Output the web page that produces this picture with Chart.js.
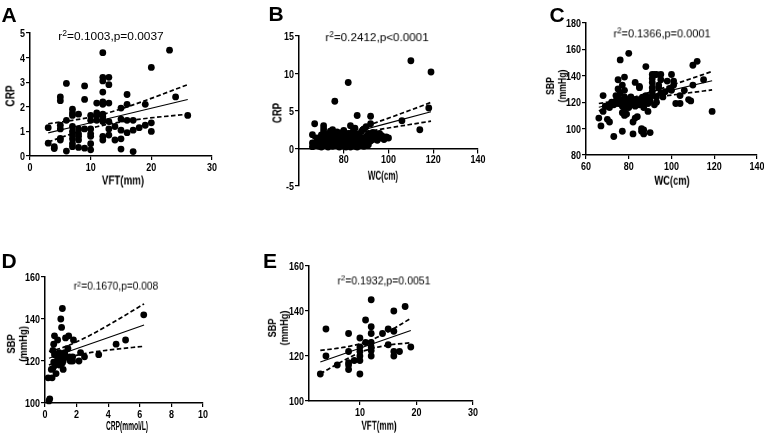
<!DOCTYPE html>
<html><head><meta charset="utf-8">
<script src="https://cdn.jsdelivr.net/npm/chart.js@4.4.1/dist/chart.umd.min.js"></script>
<style>
html,body{margin:0;padding:0;width:764px;height:433px;overflow:hidden;background:#fff;}
canvas{position:absolute;}
.t{position:absolute;white-space:nowrap;line-height:1;color:#000;font-family:Arial,'Liberation Sans',sans-serif;transform:translate(-50%,-50%);will-change:transform;}
.b{font-weight:bold;}
.rot{text-align:center;line-height:1.1;}
.sup{position:relative;top:-0.45em;font-size:0.72em;}
</style></head><body>
<div class="t b" style="left:9px;top:14px;font-size:21px">A</div>
<div class="t b" style="left:276px;top:13px;font-size:21px">B</div>
<div class="t b" style="left:557px;top:14px;font-size:21px">C</div>
<div class="t b" style="left:9px;top:260px;font-size:21px">D</div>
<div class="t b" style="left:270px;top:260px;font-size:21px">E</div>

<div class="t fit" data-w="105" style="left:110.5px;top:36.5px;font-size:11.8px">r<span class="sup">2</span>=0.1003,p=0.0037</div>
<div class="t fit" data-w="103" style="left:376.5px;top:38px;font-size:11.8px">r<span class="sup">2</span>=0.2412,p&lt;0.0001</div>
<div class="t fit" data-w="97" style="left:662px;top:33.5px;font-size:11.3px">r<span class="sup">2</span>=0.1366,p=0.0001</div>
<div class="t fit" data-w="85" style="left:116px;top:286px;font-size:10.8px">r<span class="sup">2</span>=0.1670,p=0.008</div>
<div class="t fit" data-w="93" style="left:384px;top:281px;font-size:11.2px">r<span class="sup">2</span>=0.1932,p=0.0051</div>

<div class="t b fit rot" data-r="1" data-w="21" style="left:11px;top:96px;font-size:12px">CRP</div>
<div class="t b fit" data-w="42" style="left:122.5px;top:180px;font-size:13px">VFT(mm)</div>
<div class="t b fit rot" data-r="1" data-w="20" style="left:278px;top:113px;font-size:12px">CRP</div>
<div class="t b fit" data-w="30" style="left:382.5px;top:176px;font-size:12.5px">WC(cm)</div>
<div class="t b fit rot" data-r="1" data-w="33" style="left:555.5px;top:86px;font-size:11px">SBP<br>(mmHg)</div>
<div class="t b fit" data-w="35" style="left:672px;top:180.5px;font-size:12.5px">WC(cm)</div>
<div class="t b fit rot" data-r="1" data-w="36" style="left:17px;top:344px;font-size:11px">SBP<br>(mmHg)</div>
<div class="t b fit" data-w="42" style="left:127px;top:426px;font-size:12px">CRP(mmol/L)</div>
<div class="t b fit rot" data-r="1" data-w="35" style="left:277.5px;top:328px;font-size:11px">SBP<br>(mmHg)</div>
<div class="t b fit" data-w="35" style="left:379px;top:426px;font-size:12.5px">VFT(mm)</div>

<script>
// ---------- Panel A: VFT vs CRP ----------
const A_vft = [3,3,4,4,5,5,5,5,5,5,6,6,6,7,7,7,7,7,7,7,7,7,8,8,8,8,8,8,9,9,9,9,10,10,10,10,10,10,10,11,11,11,11,12,12,12,12,12,12,12,12,12,12,12,12,13,13,13,13,13,13,14,14,15,15,15,15,15,16,16,16,16,17,17,17,18,19,19,20,20,20,23,24,26];
const A_crp = [1.15,0.52,0.38,0.3,2.4,2.25,1.25,1.1,0.65,0.72,2.95,1.45,0.2,1.9,1.75,1.65,1.2,1.0,0.85,0.7,0.5,0.38,1.7,1.1,0.9,0.8,0.65,0.35,2.85,2.3,1.1,0.32,1.65,1.45,1.1,0.9,0.8,0.5,0.25,2.15,1.75,1.65,1.45,4.2,3.2,3.05,2.6,2.2,2.1,1.7,1.6,1.45,1.4,0.8,0.65,3.2,2.9,2.15,1.4,1.1,0.85,1.2,0.65,1.95,1.5,1.05,0.7,0.28,2.5,2.1,1.45,0.95,1.45,1.05,0.18,1.15,2.1,1.25,3.6,1.35,1.0,4.3,2.4,1.65];
const A_fitX = [3,26];       const A_fitY = [0.94,2.3];
const A_bandX = [3,7,11,17,26];
const A_upper = [1.31,1.45,1.63,2.08,2.9];
const A_lower = [0.57,0.91,1.19,1.46,1.7];
const A_xTicks = [0,10,20,30];
const A_yTicks = [0,1,2,3,4,5];

// ---------- Panel B: WC vs CRP ----------
const B_wc = [66,66,66,67,67,68,68,69,69,70,70,70,71,71,71,71,71,71,72,72,72,73,73,73,73,74,74,74,75,75,75,75,75,76,76,76,76,77,77,77,77,78,78,78,78,79,79,79,79,80,80,80,80,81,81,81,81,82,82,82,82,83,83,83,83,84,84,84,85,85,85,85,86,86,86,86,86,87,87,87,88,88,88,89,89,89,90,90,90,91,91,91,92,92,92,92,93,93,94,94,95,95,96,96,97,98,99,100,106,110,114,118,119];
const B_crp = [1.85,0.75,0.25,3.3,0.5,0.9,1.4,0.3,1.1,0.6,1.8,0.2,3.05,2.6,2.2,1.7,1.2,0.8,0.4,1.5,1.0,0.2,0.7,1.3,1.9,0.5,1.1,2.3,0.3,0.9,1.4,1.8,2.5,6.3,0.6,1.2,1.6,0.4,1.0,1.5,2.2,0.2,0.8,1.3,1.9,0.5,1.0,2.1,1.5,0.3,0.9,1.4,2.4,0.6,1.1,1.7,0.2,8.8,0.4,1.3,2.0,3.05,0.8,1.5,0.2,0.5,1.2,2.2,0.9,1.6,2.7,0.3,4.4,0.2,0.7,1.3,1.9,0.4,1.0,1.8,0.6,1.4,2.3,0.3,1.1,2.6,0.8,1.6,2.9,0.5,1.3,2.0,4.3,3.3,1.0,1.7,2.15,1.2,1.4,2.0,1.1,1.8,1.4,2.0,1.7,1.2,1.55,1.4,3.7,11.7,2.5,5.4,10.2];
const B_fitX = [66,119];     const B_fitY = [0.7,4.9];
const B_bandX = [66,82,95,109,119];
const B_upper = [1.3,2.27,3.52,5.03,6.15];
const B_lower = [0.1,1.67,2.48,3.17,3.65];
const B_xTicks = [80,100,120,140];
const B_yTicks = [-5,0,5,10,15];

// ---------- Panel C: WC vs SBP ----------
const C_wc = [66,67,68,68,69,70,71,71,71,72,73,73,74,74,75,75,75,75,76,76,76,76,77,77,77,77,77,78,78,78,78,78,78,79,79,79,80,80,80,80,81,81,81,82,82,82,82,83,83,83,83,84,84,84,85,85,85,85,86,86,86,86,87,87,87,87,88,88,88,89,89,89,90,90,91,91,91,91,91,91,92,92,93,93,93,94,94,95,95,95,96,97,98,99,100,100,101,101,102,104,104,106,108,109,110,112,110,115,119];
const C_sbp = [108,102,125,113,117,107,105,118,116,120,94,118,125,121,130,137,119,123,152,122,119,127,117,98,133,112,121,129,139,114,110,124,118,111,120,122,157,122,119,116,121,124,118,120,105,96,122,135,108,120,117,109,122,119,132,131,121,118,100,98,120,123,96,99,121,116,147,120,125,122,113,119,97,121,141,138,135,131,128,125,141,118,141,120,124,133,131,141,137,127,124,128,136,130,141,129,136,133,119,119,125,129,122,121,148,151,133,137,113];
const C_fitX = [66,119];     const C_fitY = [116.2,136.3];
const C_bandX = [66,80,92,105,119];
const C_upper = [119.0,122.8,128.6,135.6,143.3];
const C_lower = [113.4,120.2,123.6,126.4,129.3];
const C_xTicks = [60,80,100,120,140];
const C_yTicks = [80,100,120,140,160,180];

// ---------- Panel D: CRP vs SBP ----------
const D_crp = [0.2,0.25,0.3,0.4,0.45,0.5,0.5,0.55,0.55,0.6,0.6,0.65,0.7,0.75,0.75,0.8,0.85,0.9,0.95,1.0,1.0,1.05,1.1,1.05,1.15,1.1,1.15,1.25,1.3,1.35,1.45,1.5,1.55,1.55,1.6,1.75,1.75,1.8,2.15,2.25,2.5,3.4,4.5,5.1,6.25];
const D_sbp = [112,101,102,116,112,116.5,125,119.5,128,132,123,118,114,123,120,130,122,124,118,140,121,136,145,122,120,119,116,124,131,122,126,132,122,121,120,122,120,130,120,124,122,123,128,130,142];
const D_fitX = [0.25,6.27];  const D_fitY = [121.3,137.1];
const D_bandX = [0.25,1.2,2.5,4,6.27];
const D_upper = [124.5,126.6,130.9,137.0,147.2];
const D_lower = [118.1,121.0,123.5,125.2,127.0];
const D_xTicks = [0,2,4,6,8,10];
const D_yTicks = [100,120,140,160];

// ---------- Panel E: VFT vs SBP ----------
const E_vft = [3,4,4,6,8,8,8,8,8,9,10,10,10,10,10,10,11,11,12,12,12,12,12,12,12,14,15,15,16,16,16,16,17,18,19];
const E_sbp = [112,132,120,116,130,122,117,116,114,118,128,124,122,120,118,112,136,126,145,133,130,126,124,122.5,120,130,132,125,140,131,122,120,122,142,124];
const E_fitX = [3,19];       const E_fitY = [117.3,131.3];
const E_bandX = [3,7,11,15,19];
const E_upper = [122.5,123.8,126.1,130.8,136.7];
const E_lower = [112.1,117.8,122.5,124.8,125.9];
const E_xTicks = [10,20,30];
const E_yTicks = [100,120,140,160];

// squeeze each text block horizontally to the width it has in the reference
document.querySelectorAll('.fit').forEach(el => {
  const k = (+el.dataset.w) / el.offsetWidth;
  el.style.transform = 'translate(-50%,-50%)' + (el.dataset.r ? ' rotate(-90deg)' : '') + ' scaleX(' + k.toFixed(3) + ')';
});

// condensed bold tick labels, placed with the chart's own scales
const narrowTicks = {
  id:'narrowTicks',
  afterDraw(chart){
    const ctx = chart.ctx, xs = chart.scales.x, ys = chart.scales.y, ca = chart.chartArea;
    ctx.save();
    ctx.fillStyle = '#000';
    ctx.font = "bold 11.5px Arial, 'Liberation Sans', sans-serif";
    ctx.textBaseline = 'alphabetic';
    const xLine = chart.options.xAtZero ? ys.getPixelForValue(0) : ca.bottom;
    ctx.textAlign = 'center';
    xs.ticks.forEach(t => {
      ctx.save(); ctx.translate(xs.getPixelForValue(t.value), xLine + 14.5); ctx.scale(0.78, 1);
      ctx.fillText(String(t.value), 0, 0); ctx.restore();
    });
    ctx.textAlign = 'right';
    ys.ticks.forEach(t => {
      ctx.save(); ctx.translate(ca.left - 5, ys.getPixelForValue(t.value) + 4); ctx.scale(0.78, 1);
      ctx.fillText(String(t.value), 0, 0); ctx.restore();
    });
    ctx.restore();
  }
};

function pts(xs, ys){ const n=Math.min(xs.length, ys.length); const o=[]; for(let i=0;i<n;i++) o.push({x:xs[i], y:ys[i]}); return o; }

function axis(min, max, ticks, isX, pos){
  return {
    type:'linear', min:min, max:max, position:pos,
    afterBuildTicks: s => { s.ticks = ticks.map(v => ({value:v})); },
    afterFit: s => { if(isX) s.height = 20; else s.width = 30; },
    ticks:{display:false, autoSkip:false, maxRotation:0},
    grid:{display:true, drawOnChartArea:false, drawTicks:true, tickLength:4, color:'#000', lineWidth:1.2},
    border:{display:true, color:'#000', width:1.5}
  };
}

function panel(g, xs, ys, fx, fy, bx, up, lo, xr, yr, xt, yt, xAtZero){
  const padB = xAtZero ? 10 : 0;
  const c = document.createElement('canvas');
  const w = g.R - g.L + 40, h = g.B - g.T + 10 + (xAtZero ? 10 : 20);
  c.width = w; c.height = h;
  c.style.left = (g.L - 30) + 'px'; c.style.top = (g.T - 10) + 'px';
  c.style.width = w + 'px'; c.style.height = h + 'px';
  document.body.appendChild(c);
  const lineDs = (d, dash, bw) => ({data:d, showLine:true, borderColor:'#000', backgroundColor:'#000', borderWidth:bw, borderDash:dash, pointRadius:0, pointHoverRadius:0, cubicInterpolationMode:'monotone', clip:false});
  new Chart(c, {
    type:'scatter',
    plugins:[narrowTicks],
    data:{datasets:[
      {data:pts(xs,ys), pointRadius:3.4, pointHoverRadius:3.4, backgroundColor:'#000', borderColor:'#000', borderWidth:0, clip:false},
      lineDs(pts(fx,fy), [], 1.1),
      lineDs(pts(bx,up), [4.5,2.5], 1.7),
      lineDs(pts(bx,lo), [4.5,2.5], 1.7)
    ]},
    options:{
      xAtZero: xAtZero,
      responsive:false, animation:false, devicePixelRatio:1,
      layout:{padding:{top:10, right:10, bottom:padB, left:0}},
      plugins:{legend:{display:false}, tooltip:{enabled:false}},
      events:[],
      scales:{
        x: axis(xr[0], xr[1], xt, true, xAtZero ? {y:0} : 'bottom'),
        y: axis(yr[0], yr[1], yt, false, 'left')
      }
    }
  });
}

panel({L:30,T:33,R:212,B:156}, A_vft, A_crp, A_fitX, A_fitY, A_bandX, A_upper, A_lower, [0,30], [0,5], A_xTicks, A_yTicks, false);
panel({L:299,T:36,R:478,B:186}, B_wc, B_crp, B_fitX, B_fitY, B_bandX, B_upper, B_lower, [60,140], [-5,15], B_xTicks, B_yTicks, true);
panel({L:586,T:23,R:757,B:155}, C_wc, C_sbp, C_fitX, C_fitY, C_bandX, C_upper, C_lower, [60,140], [80,180], C_xTicks, C_yTicks, false);
panel({L:45,T:277,R:203,B:403}, D_crp, D_sbp, D_fitX, D_fitY, D_bandX, D_upper, D_lower, [0,10], [100,160], D_xTicks, D_yTicks, false);
panel({L:309,T:266,R:473,B:401}, E_vft, E_sbp, E_fitX, E_fitY, E_bandX, E_upper, E_lower, [1,30], [100,160], E_xTicks, E_yTicks, false);
</script>
</body></html>
